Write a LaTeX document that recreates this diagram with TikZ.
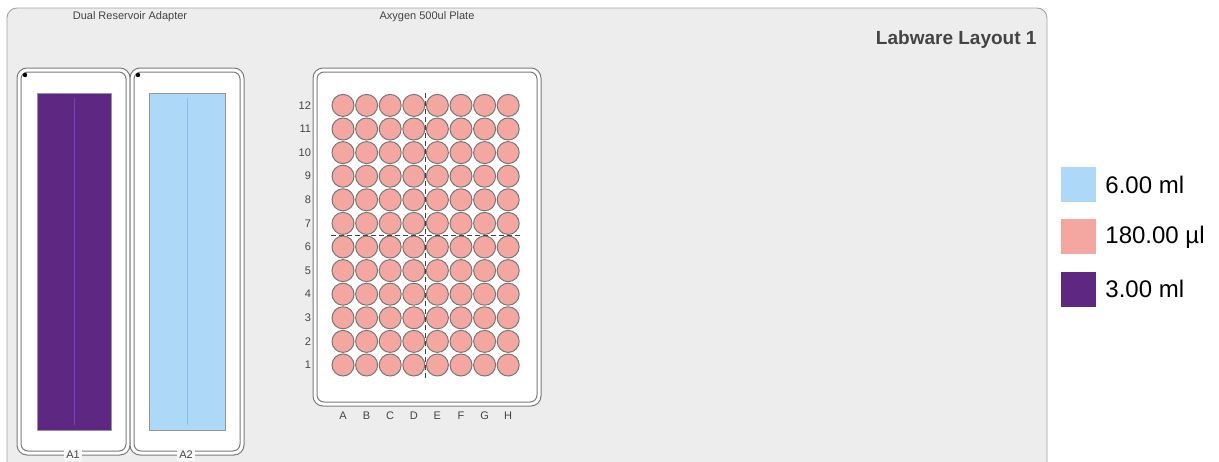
\documentclass[tikz,border=0pt]{standalone}
\usepackage{fontspec}
\setmainfont{Liberation Sans}
\usetikzlibrary{positioning}

\definecolor{panelgray}{HTML}{EDEDED}
\definecolor{panelline}{HTML}{A3A3A3}
\definecolor{slotline}{HTML}{7C7C7C}
\definecolor{labelgray}{HTML}{444444}
\definecolor{wellfill}{HTML}{F4A7A0}
\definecolor{wellline}{HTML}{777777}
\definecolor{resblue}{HTML}{ADD8F8}
\definecolor{respurple}{HTML}{5E2882}

\begin{document}
\begin{tikzpicture}[x=1pt,y=-1pt,every node/.style={font=\fontsize{11}{13}\selectfont,text=labelgray}]
\tikzstyle{panel}=[draw=panelline,fill=panelgray,rounded corners=10pt,line width=0.9pt]
\tikzstyle{slot}=[draw=slotline,fill=white,rounded corners=10pt,line width=1pt]
\tikzstyle{slotin}=[draw=slotline,fill=white,rounded corners=7pt,line width=1pt]
\tikzstyle{well}=[circle,draw=wellline,fill=wellfill,minimum size=22pt,inner sep=0pt,line width=1pt]
\tikzstyle{swatch}=[draw=none,minimum size=35pt,inner sep=0pt]
\tikzstyle{legtext}=[font=\fontsize{24}{28}\selectfont,text=black,inner sep=2pt]
\useasboundingbox (0,0) rectangle (1219,461);
\clip (0,0) rectangle (1219,461);
\draw[panel] (7,8) rectangle (1047,480);

% titles
\node (adaptertitle) at (130,17) {Dual Reservoir Adapter};
\node (platetitle) at (427,17) {Axygen 500ul Plate};
\node[anchor=east,font=\fontsize{19}{22}\selectfont\bfseries] (layouttitle) at (1040,40) {Labware Layout 1};

% dual reservoir adapter
\draw[slot] (17,68) rectangle (130,455);
\draw[slot] (130,68) rectangle (244,455);
\draw[slotin] (21,72) rectangle (126,451);
\draw[slotin] (134,72) rectangle (240,451);
\fill[black] (25,75) circle (2.2pt);
\fill[black] (138,75) circle (2.2pt);
\node[draw=slotline!80,fill=respurple,minimum width=74pt,minimum height=337pt,inner sep=0pt] (resA1) at (74,261.5) {};
\node[draw=slotline!80,fill=resblue,minimum width=76pt,minimum height=337pt,inner sep=0pt] (resA2) at (187,261.5) {};
\draw[blue!30!respurple!80!white,line width=0.7pt] ([yshift=-5pt]resA1.north) -- ([yshift=5pt]resA1.south);
\draw[cyan!30!resblue,line width=0.7pt] ([yshift=-5pt]resA2.north) -- ([yshift=5pt]resA2.south);
\node[fill=white!60!panelgray,inner sep=2pt] (labA1) at (73,455) {A1};
\node[fill=white!60!panelgray,inner sep=2pt] (labA2) at (186,455) {A2};

% 96 well plate
\draw[slot] (313,68) rectangle (541,406);
\draw[slotin] (317,72) rectangle (537,402);
\foreach \col [count=\i from 0] in {A,B,C,D,E,F,G,H}
  \foreach \row in {1,...,12}
    \node[well] (well-\col-\row) at (343+23.6*\i,365-23.6*\row+23.6) {};
\draw[labelgray,dash pattern=on 5pt off 3pt] (425.6,93) -- (425.6,378);
\draw[labelgray,dash pattern=on 5pt off 3pt] (331,235.2) -- (520,235.2);
\foreach \row in {1,...,12}
  \node[left=17pt of well-A-\row] (row-\row) {\row};
\foreach \col in {A,B,C,D,E,F,G,H}
  \node[below=39pt of well-\col-1,anchor=center] (col-\col) {\col};

% legend
\node[swatch,fill=resblue] (sw-blue) at (1078.5,184.5) {};
\node[swatch,fill=wellfill,below=17pt of sw-blue] (sw-salmon) {};
\node[swatch,fill=respurple,below=17pt of sw-salmon] (sw-purple) {};
\node[legtext,right=7pt of sw-blue] (lg-blue) {6.00 ml};
\node[legtext,right=7pt of sw-salmon] (lg-salmon) {180.00 µl};
\node[legtext,right=7pt of sw-purple] (lg-purple) {3.00 ml};
\end{tikzpicture}
\end{document}
